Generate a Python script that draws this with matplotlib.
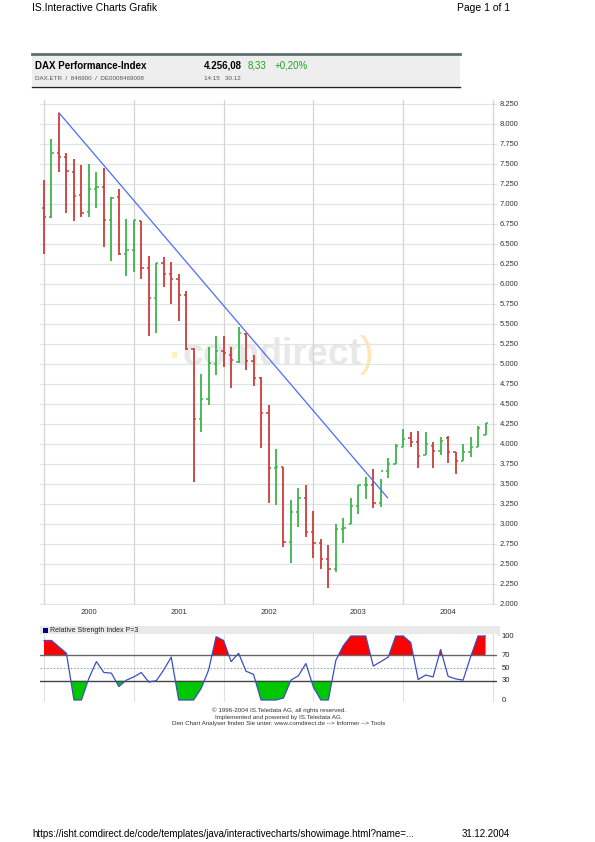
import matplotlib
matplotlib.use("Agg")
import matplotlib.pyplot as plt
import numpy as np

plt.rcParams["font.family"] = ["Liberation Sans", "DejaVu Sans"]

# monthly OHLC, Jan 2000 .. Dec 2004
opens = [6954, 6834, 7642, 7592, 7404, 7108, 6904, 7183, 7217, 6800, 7083, 6371,
         6425, 6792, 6204, 5829, 6267, 6125, 6059, 5863, 5188, 4309, 4559, 5000,
         5167, 5113, 5021, 5370, 5042, 4821, 4383, 3696, 3708, 2771, 3154, 3329,
         2896, 2758, 2559, 2434, 2938, 3000, 3225, 3488, 3488, 3258, 3667, 3750,
         3967, 4071, 4029, 3863, 3975, 3917, 4071, 3896, 3788, 3896, 3967, 4113]
highs = [7300, 7808, 8142, 7642, 7558, 7488, 7500, 7404, 7446, 7083, 7183, 6813,
         6800, 6792, 6350, 6262, 6342, 6279, 6125, 5917, 5196, 4875, 5217, 5350,
         5350, 5217, 5459, 5383, 5113, 4842, 4488, 3933, 3708, 3300, 3446, 3488,
         3167, 2808, 2738, 3000, 3071, 3321, 3488, 3592, 3683, 3558, 3821, 4000,
         4183, 4146, 4167, 4154, 4029, 4092, 4100, 3904, 4000, 4083, 4225, 4267]
lows = [6375, 6830, 7404, 6883, 6792, 6842, 6834, 6946, 6458, 6292, 6363, 6104,
        6154, 6062, 5354, 5383, 5958, 5750, 5542, 5175, 3529, 4154, 4488, 4863,
        4967, 4696, 5009, 4925, 4725, 3946, 3267, 3238, 2717, 2517, 2967, 2833,
        2571, 2434, 2196, 2404, 2767, 3000, 3125, 3308, 3196, 3217, 3571, 3750,
        3967, 3958, 3696, 3863, 3704, 3863, 3758, 3625, 3788, 3842, 3958, 4113]
closes = [6834, 7642, 7592, 7412, 7100, 6892, 7183, 7217, 6800, 7080, 6371, 6425,
          6795, 6204, 5829, 6258, 6125, 6059, 5863, 5188, 4309, 4559, 5010, 5167,
          5133, 5050, 5392, 5042, 4821, 4383, 3696, 3708, 2771, 3154, 3329, 2896,
          2758, 2559, 2434, 2938, 2946, 3225, 3488, 3492, 3258, 3667, 3750, 3975,
          4058, 4029, 3854, 4000, 3917, 4042, 3896, 3788, 3904, 3967, 4196, 4258]
rsi = [93, 93, 83, 73, 0, 0, 34, 60, 43, 42, 21, 31,
       36, 43, 28, 30, 47, 67, 0, 0, 0, 18, 47, 99,
       93, 60, 73, 45, 40, 0, 0, 0, 3, 31, 38, 57,
       20, 0, 0, 62, 85, 100, 100, 100, 53, 60, 67, 100,
       100, 90, 32, 39, 36, 79, 37, 33, 31, 67, 100, 100]
years = ["2000", "2001", "2002", "2003", "2004"]
price_ticks = list(range(2000, 8251, 250))
rsi_ticks = [0, 30, 50, 70, 100]
trend_x = [2, 45.9]
trend_y = [8140, 3330]

W, H = 595, 842
fig = plt.figure(figsize=(W / 100, H / 100), dpi=100)


def box(x0, y0, x1, y1):
    return [x0 / W, 1 - y1 / H, (x1 - x0) / W, (y1 - y0) / H]


bg = fig.add_axes([0, 0, 1, 1])
bg.set_xlim(0, W)
bg.set_ylim(H, 0)
bg.axis("off")

# page header / footer
bg.text(32, 8, "IS.Interactive Charts Grafik", fontsize=7.5, va="center")
bg.text(510, 8, "Page 1 of 1", fontsize=7.5, va="center", ha="right")
bg.text(32, 834, "https://isht.comdirect.de/code/templates/java/interactivecharts/showimage.html?name=...",
        fontsize=7, va="center")
bg.text(510, 834, "31.12.2004", fontsize=7, va="center", ha="right")

# quote box
bg.add_patch(plt.Rectangle((32, 54), 428, 32, facecolor="#eeeeee", edgecolor="none"))
bg.plot([32, 460], [54, 54], color="#5f6e6e", lw=2)
bg.plot([32, 460], [86.5, 86.5], color="#222222", lw=1)
bg.text(35, 66, "DAX Performance-Index", fontsize=7, fontweight="bold", va="center")
bg.text(204, 66, "4.256,08", fontsize=7, fontweight="bold", va="center")
bg.text(248, 66, "8,33", fontsize=7, color="#1fa51f", va="center")
bg.text(275, 66, "+0,20%", fontsize=7, color="#1fa51f", va="center")
bg.text(35, 78, "DAX.ETR  /  846900  /  DE0008469008", fontsize=4.5, color="#555555", va="center")
bg.text(204, 78, "14:15   30.12", fontsize=4.5, color="#555555", va="center")

# main price chart
n = len(closes)
x = np.arange(n)
ax = fig.add_axes(box(40, 100, 497, 605))
ax.set_xlim(-0.535, 60.535)
ax.set_ylim(1987.5, 8300)
for s in ax.spines.values():
    s.set_visible(False)
ax.set_xticks([])
ax.set_yticks([])
for p in price_ticks:
    ax.axhline(p, color="#dde6e2", lw=0.9, zorder=1)
for k in range(6):
    ax.axvline(12 * k, color="#d4d4d4", lw=0.9, zorder=1)

ax.text(272, 365, "comdirect", transform=bg.transData, fontsize=27, fontweight="bold",
        color="#e8e8e8", ha="center", va="baseline", zorder=0.5)
ax.text(367, 366, ")", transform=bg.transData, fontsize=30, color="#ffe6b3",
        ha="center", va="baseline", zorder=0.5)
ax.add_patch(plt.Rectangle((172, 352), 5, 6, transform=bg.transData,
                           facecolor="#fff0c0", edgecolor="none", zorder=0.5))

colors = ["#3db54a" if c >= o else "#cc3c3c" for o, c in zip(opens, closes)]
ax.vlines(x, lows, highs, colors=colors, lw=1.3, zorder=3)
ax.hlines(opens, x - 0.3, x, colors=colors, lw=1.1, zorder=3)
ax.hlines(closes, x, x + 0.3, colors=colors, lw=1.1, zorder=3)
ax.plot(trend_x, trend_y, color="#4d6bff", lw=0.9, zorder=4)

for p in price_ticks:
    ax.text(1.006, (p - 1987.5) / (8300 - 1987.5), f"{p // 1000}.{p % 1000:03d}",
            transform=ax.transAxes, fontsize=5.5, color="#333333", va="center")
for k, yr in enumerate(years):
    ax.text(12 * k + 6, 1987.5 - 50, yr, fontsize=5.5, color="#333333",
            ha="center", va="top")

# RSI panel
bg.add_patch(plt.Rectangle((40, 626), 460, 10, facecolor="#e9e9e9", edgecolor="none"))
bg.add_patch(plt.Rectangle((43, 627.5), 5, 5, facecolor="#000080", edgecolor="none"))
bg.text(50, 631, "Relative Strength Index P=3", fontsize=5, color="#222222", va="center")

rx = fig.add_axes(box(40, 634, 497, 702))
rx.set_xlim(-0.535, 60.535)
rx.set_ylim(-3.125, 103.125)
for s in rx.spines.values():
    s.set_visible(False)
rx.set_xticks([])
rx.set_yticks([])
for k in range(6):
    rx.axvline(12 * k, color="#e0e0e0", lw=0.8, zorder=1)
r = np.array(rsi, dtype=float)
rx.fill_between(x, r, 70, where=r >= 70, interpolate=True, color="#ff0000", lw=0, zorder=2)
rx.fill_between(x, r, 30, where=r <= 30, interpolate=True, color="#00c800", lw=0, zorder=2)
rx.axhline(70, color="#666666", lw=1, zorder=3)
rx.axhline(30, color="#444444", lw=1, zorder=3)
rx.axhline(50, color="#99aabb", lw=0.8, ls=(0, (1.5, 1.5)), zorder=3)
rx.plot(x, r, color="#3b4fc4", lw=0.9, zorder=4)
for t in rsi_ticks:
    rx.text(1.01, (t + 3.125) / 106.25, str(t), transform=rx.transAxes, fontsize=5.5,
            color="#222222", va="center")

# copyright lines
bg.text(279, 710, "\u00a9 1996-2004 IS.Teledata AG, all rights reserved.", fontsize=4.5,
        ha="center", va="center", color="#333333")
bg.text(279, 717, "Implemented and powered by IS.Teledata AG.", fontsize=4.5,
        ha="center", va="center", color="#333333")
bg.text(279, 724, "Den Chart Analyser finden Sie unter: www.comdirect.de --> Informer --> Tools",
        fontsize=4.5, ha="center", va="center", color="#333333")

fig.savefig("out.png", dpi=100)
